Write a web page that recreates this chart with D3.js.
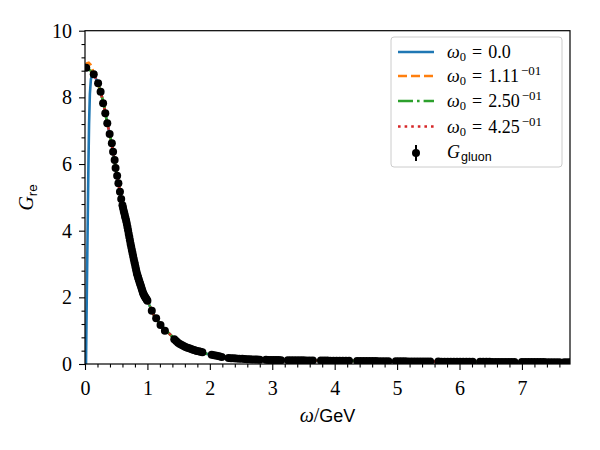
<!DOCTYPE html>
<html>
<head>
<meta charset="utf-8">
<script src="https://cdn.jsdelivr.net/npm/d3@7"></script>
<style>
  html, body { margin: 0; padding: 0; background: #fff; }
  svg { display: block; }
</style>
</head>
<body>
<div id="chart"></div>
<script>
// ---------------- data ----------------
const xTicks = [0, 1, 2, 3, 4, 5, 6, 7];
const yTicks = [0, 2, 4, 6, 8, 10];
const xDomain = [0, 7.77];
const yDomain = [0, 10];

// lattice data G_gluon
const omega = [0.02, 0.14, 0.21, 0.25, 0.29, 0.325, 0.357, 0.395, 0.43, 0.45, 0.475, 0.49, 0.515, 0.535, 0.56, 0.58,
  0.60, 0.61, 0.62, 0.63, 0.64, 0.65, 0.66, 0.67, 0.68, 0.69, 0.70, 0.71, 0.72, 0.73, 0.74, 0.75, 0.76, 0.77, 0.78, 0.79,
  0.80, 0.81, 0.82, 0.83, 0.84, 0.85, 0.86, 0.87, 0.88, 0.89, 0.90, 0.91, 0.92, 0.93, 0.94, 0.95, 0.96, 0.97, 0.98, 0.99, 1.00,
  1.07, 1.14, 1.21, 1.28,
  1.43, 1.46, 1.49, 1.52, 1.55, 1.58, 1.61, 1.64, 1.67, 1.70, 1.73, 1.76, 1.79, 1.82, 1.85, 1.88,
  2.03, 2.07, 2.11, 2.15, 2.19,
  2.30, 2.34, 2.38, 2.42, 2.47, 2.52, 2.56, 2.60, 2.64, 2.68, 2.72, 2.76, 2.80,
  2.90, 2.94, 2.98, 3.02, 3.06, 3.10, 3.14,
  3.25, 3.30, 3.35, 3.40, 3.45, 3.50, 3.55, 3.60, 3.65,
  3.78, 3.83, 3.88, 3.93, 3.98, 4.03, 4.08, 4.13, 4.18, 4.23,
  4.36, 4.41, 4.46, 4.51, 4.56, 4.61, 4.66, 4.71, 4.76, 4.81, 4.86,
  4.98, 5.03, 5.08, 5.13, 5.18, 5.23, 5.28, 5.33, 5.38, 5.43, 5.48, 5.53,
  5.66, 5.71, 5.76, 5.81, 5.86, 5.91, 5.96, 6.01, 6.06, 6.11, 6.16, 6.21,
  6.33, 6.38, 6.43, 6.48, 6.53, 6.58, 6.63, 6.68, 6.73, 6.78, 6.83, 6.88,
  7.00, 7.05, 7.10, 7.15, 7.20, 7.25, 7.30, 7.35, 7.40, 7.45, 7.50, 7.55, 7.60,
  7.68, 7.73, 7.78];
const gRe = [8.89, 8.69, 8.42, 8.17, 7.82, 7.52, 7.22, 6.90, 6.62, 6.37, 6.12, 5.88, 5.65, 5.42, 5.17, 4.95,
  4.76, 4.68, 4.60, 4.52, 4.44, 4.37, 4.29, 4.21, 4.11, 4.01, 3.91, 3.81, 3.71, 3.61, 3.52, 3.43, 3.34, 3.25, 3.16, 3.07,
  2.99, 2.90, 2.81, 2.73, 2.66, 2.60, 2.54, 2.48, 2.42, 2.37, 2.31, 2.25, 2.19, 2.13, 2.09, 2.05, 2.02, 1.99, 1.96, 1.93, 1.90,
  1.60, 1.37, 1.17, 1.00,
  0.74, 0.69, 0.64, 0.60, 0.57, 0.54, 0.51, 0.49, 0.47, 0.45, 0.43, 0.41, 0.39, 0.38, 0.37, 0.35,
  0.28, 0.26, 0.25, 0.23, 0.21,
  0.18, 0.175, 0.17, 0.165, 0.16, 0.155, 0.15, 0.145, 0.14, 0.138, 0.135, 0.132, 0.13,
  0.125, 0.123, 0.121, 0.12, 0.118, 0.117, 0.116,
  0.114, 0.113, 0.112, 0.111, 0.11, 0.109, 0.108, 0.107, 0.106,
  0.104, 0.103, 0.102, 0.101, 0.10, 0.099, 0.098, 0.097, 0.096, 0.095,
  0.093, 0.092, 0.091, 0.09, 0.089, 0.088, 0.087, 0.086, 0.085, 0.084, 0.083,
  0.081, 0.08, 0.08, 0.079, 0.078, 0.077, 0.077, 0.076, 0.075, 0.075, 0.074, 0.073,
  0.072, 0.071, 0.071, 0.07, 0.07, 0.069, 0.069, 0.068, 0.068, 0.067, 0.067, 0.066,
  0.065, 0.065, 0.064, 0.064, 0.063, 0.063, 0.062, 0.062, 0.061, 0.061, 0.06, 0.06,
  0.059, 0.059, 0.058, 0.058, 0.058, 0.057, 0.057, 0.057, 0.056, 0.056, 0.056, 0.055, 0.055,
  0.055, 0.054, 0.054];

// fit curves: individual low-omega parts
const fitBlueOmega = [0.016, 0.025, 0.035, 0.045, 0.055, 0.065, 0.078, 0.095, 0.12];
const fitBlueG     = [0.0, 1.5, 3.0, 4.5, 6.0, 7.2, 8.1, 8.55, 8.7];
const fitOrangeOmega = [0.0, 0.03, 0.06, 0.09, 0.12];
const fitOrangeG     = [8.93, 9.02, 9.04, 8.98, 8.85];
const fitGreenOmega = [0.0, 0.05, 0.1];
const fitGreenG     = [8.9, 8.86, 8.78];
const fitRedOmega = [0.0, 0.05, 0.1];
const fitRedG     = [8.88, 8.84, 8.76];
// shared high-omega part (curves coincide there)
const fitTailOmega = [0.15, 0.2, 0.25, 0.3, 0.35, 0.4, 0.45, 0.5, 0.6, 0.7, 0.8, 0.9, 1.0, 1.1, 1.2, 1.3, 1.4, 1.6, 1.8, 2.0, 2.5, 3, 4, 5, 6, 7, 7.8];
const fitTailG     = [8.66, 8.46, 8.17, 7.8, 7.28, 6.87, 6.37, 5.79, 4.76, 3.91, 2.99, 2.31, 1.90, 1.48, 1.2, 1.0, 0.82, 0.52, 0.38, 0.28, 0.15, 0.12, 0.1, 0.08, 0.065, 0.058, 0.054];

const legendLabels = [
  {base: "0.0", sup: null},
  {base: "1.11", sup: "\u221201"},
  {base: "2.50", sup: "\u221201"},
  {base: "4.25", sup: "\u221201"}
];

// ---------------- layout ----------------
const W = 600, H = 450;
const L = 85, R = 570, T = 30.7, B = 364;
const serif = "'Liberation Serif', 'DejaVu Serif', serif";
const sans = "'Liberation Sans', 'DejaVu Sans', sans-serif";

const svg = d3.select("#chart").append("svg").attr("width", W).attr("height", H)
  .style("background", "#fff");

const x = d3.scaleLinear().domain(xDomain).range([L, R]);
const y = d3.scaleLinear().domain(yDomain).range([B, T]);

svg.append("defs").append("clipPath").attr("id", "clip")
  .append("rect").attr("x", L).attr("y", T).attr("width", R - L).attr("height", B - T);

const plot = svg.append("g").attr("clip-path", "url(#clip)");

const line = d3.line().x(d => x(d[0])).y(d => y(d[1]));
const zip = (a, b) => a.map((v, i) => [v, b[i]]);
const tail = zip(fitTailOmega, fitTailG);

const fits = [
  {pts: zip(fitBlueOmega, fitBlueG).concat(tail), color: "#1f77b4", dash: null},
  {pts: zip(fitOrangeOmega, fitOrangeG).concat(tail), color: "#ff7f0e", dash: "9,4"},
  {pts: zip(fitGreenOmega, fitGreenG).concat(tail), color: "#2ca02c", dash: "15,4,2.6,4"},
  {pts: zip(fitRedOmega, fitRedG).concat(tail), color: "#d62728", dash: "2.6,4"}
];

fits.forEach(f => {
  plot.append("path").attr("d", line(f.pts)).attr("fill", "none")
    .attr("stroke", f.color).attr("stroke-width", 2.6)
    .attr("stroke-dasharray", f.dash);
});

plot.append("g").selectAll("circle").data(zip(omega, gRe)).join("circle")
  .attr("cx", d => x(d[0])).attr("cy", d => y(d[1])).attr("r", 4)
  .attr("fill", "#000");

// ---------------- axes ----------------
const xMinor = d3.range(0, 7.8, 0.2).filter(v => Math.abs(v - Math.round(v)) > 1e-6);
const yMinor = d3.range(0, 10.01, 0.4).filter(v => Math.abs(v / 2 - Math.round(v / 2)) > 1e-6);

const gx = svg.append("g").attr("transform", `translate(0,${B})`);
gx.call(d3.axisBottom(x).tickValues(xMinor).tickSize(3.5).tickFormat(""));
gx.call(g => g.select(".domain").remove());
const gx2 = svg.append("g").attr("transform", `translate(0,${B})`)
  .call(d3.axisBottom(x).tickValues(xTicks).tickSize(6).tickFormat(d3.format("d")));
gx2.select(".domain").remove();
gx2.selectAll("text").attr("y", 31).attr("dy", 0)
  .style("font-family", serif).style("font-size", "20px").attr("fill", "#000");

const gy = svg.append("g").attr("transform", `translate(${L},0)`);
gy.call(d3.axisLeft(y).tickValues(yMinor).tickSize(3.5).tickFormat(""));
gy.select(".domain").remove();
const gy2 = svg.append("g").attr("transform", `translate(${L},0)`)
  .call(d3.axisLeft(y).tickValues(yTicks).tickSize(6).tickFormat(d3.format("d")));
gy2.select(".domain").remove();
gy2.selectAll("text").attr("x", -13).attr("dy", "0.33em")
  .style("font-family", serif).style("font-size", "20px").attr("fill", "#000");

svg.selectAll(".tick line").attr("stroke", "#000").attr("stroke-width", 1.1);

// spines
svg.append("rect").attr("x", L).attr("y", T).attr("width", R - L).attr("height", B - T)
  .attr("fill", "none").attr("stroke", "#000").attr("stroke-width", 1.2);

// axis labels
const xl = svg.append("text").attr("x", (L + R) / 2).attr("y", 422)
  .attr("text-anchor", "middle").attr("fill", "#000");
xl.append("tspan").text("\u03c9").style("font-family", serif).style("font-style", "italic").style("font-size", "20px");
xl.append("tspan").text("/").style("font-family", serif).style("font-size", "20px");
xl.append("tspan").text("GeV").style("font-family", sans).style("font-size", "18px");

const yl = svg.append("text").attr("transform", `translate(33,${(T + B) / 2}) rotate(-90)`)
  .attr("text-anchor", "middle").attr("fill", "#000");
yl.append("tspan").text("G").style("font-family", serif).style("font-style", "italic").style("font-size", "20px");
yl.append("tspan").text("re").attr("dy", 4).style("font-family", sans).style("font-size", "13.5px");

// ---------------- legend ----------------
const lg = svg.append("g");
lg.append("rect").attr("x", 391).attr("y", 37).attr("width", 171).attr("height", 130)
  .attr("rx", 3).attr("fill", "#fff").attr("fill-opacity", 0.8)
  .attr("stroke", "#cccccc").attr("stroke-width", 1);

const rowY = [52, 76, 101, 126.5];
fits.forEach((f, i) => {
  const yy = rowY[i];
  lg.append("line").attr("x1", 398).attr("x2", 434).attr("y1", yy).attr("y2", yy)
    .attr("stroke", f.color).attr("stroke-width", 2.6).attr("stroke-dasharray", f.dash);
  const t = lg.append("text").attr("x", 447).attr("y", yy + 6).attr("fill", "#000");
  t.append("tspan").text("\u03c9").style("font-family", serif).style("font-style", "italic").style("font-size", "18px");
  t.append("tspan").text("0").attr("dy", 3).style("font-family", serif).style("font-size", "12.5px");
  t.append("tspan").text("=").attr("dy", -3).attr("dx", 6).style("font-family", serif).style("font-size", "18px");
  t.append("tspan").text(legendLabels[i].base).attr("dx", 6).style("font-family", serif).style("font-size", "18px");
  if (legendLabels[i].sup) {
    t.append("tspan").text(legendLabels[i].sup).attr("dy", -7).attr("dx", 2)
      .style("font-family", serif).style("font-size", "13px");
  }
});
// errorbar legend entry
const ey = 153;
lg.append("line").attr("x1", 416).attr("x2", 416).attr("y1", ey - 8).attr("y2", ey + 8)
  .attr("stroke", "#000").attr("stroke-width", 2);
lg.append("circle").attr("cx", 416).attr("cy", ey).attr("r", 4).attr("fill", "#000");
const gt = lg.append("text").attr("x", 447).attr("y", ey + 5).attr("fill", "#000");
gt.append("tspan").text("G").style("font-family", serif).style("font-style", "italic").style("font-size", "18px");
gt.append("tspan").text("gluon").attr("dy", 3).attr("dx", 1).style("font-family", sans).style("font-size", "12.5px");
</script>
</body>
</html>
